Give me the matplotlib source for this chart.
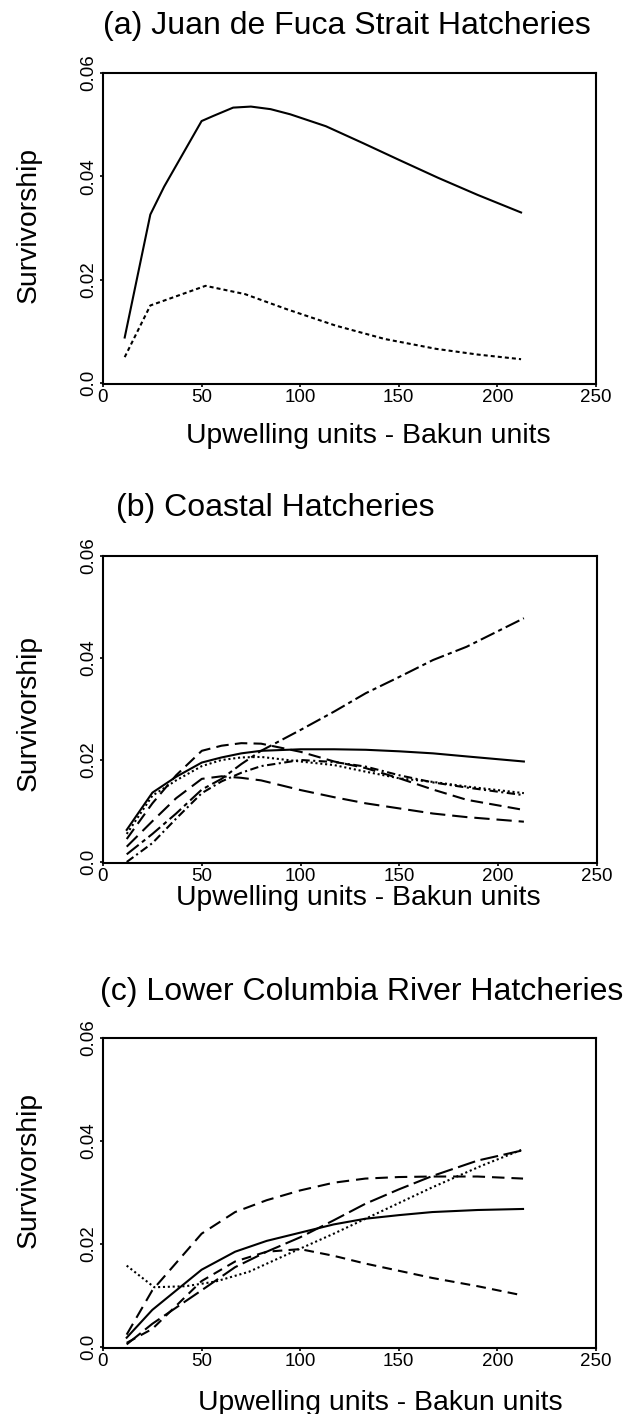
import matplotlib
matplotlib.use("Agg")
import matplotlib.pyplot as plt

plt.rcParams['font.family'] = ['Liberation Sans', 'DejaVu Sans']
plt.rcParams['lines.scale_dashes'] = False

# ---------------- data ----------------
# (a) Juan de Fuca Strait Hatcheries
a_solid_x = [11, 24, 31, 50, 56, 66, 75, 85, 95, 113, 132, 150, 170, 190, 212]
a_solid_y = [0.0088, 0.0326, 0.0380, 0.0507, 0.0517, 0.0533, 0.0535, 0.0530, 0.0520,
             0.0497, 0.0464, 0.0432, 0.0397, 0.0364, 0.0330]
a_dot_x = [11, 24, 52, 72, 93, 118, 143, 169, 190, 212]
a_dot_y = [0.0050, 0.0150, 0.0188, 0.0172, 0.0143, 0.0111, 0.0085, 0.0066, 0.0055, 0.0046]

# (b) Coastal Hatcheries
b_x = [12, 25, 37, 50, 60, 70, 80, 100, 117, 133, 150, 167, 184, 213]
b_solid = [0.0063, 0.0136, 0.0167, 0.0195, 0.0205, 0.0213, 0.0218, 0.0221, 0.0221,
           0.0220, 0.0217, 0.0213, 0.0207, 0.0197]
b_dotted = [0.0055, 0.0130, 0.0160, 0.0188, 0.0200, 0.0205, 0.0206, 0.0197, 0.0190,
            0.0177, 0.0164, 0.0157, 0.0148, 0.0135]
b_dashdot = [0.0000, 0.0037, 0.0085, 0.0135, 0.0158, 0.0175, 0.0188, 0.0200, 0.0196,
             0.0187, 0.0170, 0.0156, 0.0146, 0.0131]
b_longdash = [0.0045, 0.0115, 0.0170, 0.0218, 0.0228, 0.0233, 0.0232, 0.0216, 0.0197,
              0.0184, 0.0164, 0.0142, 0.0122, 0.0102]
b_longdash2 = [0.0030, 0.0080, 0.0125, 0.0163, 0.0168, 0.0165, 0.0160, 0.0141, 0.0127,
               0.0115, 0.0105, 0.0095, 0.0088, 0.0079]
b_rising = [0.0015, 0.0055, 0.0095, 0.0142, 0.0163, 0.0192, 0.0218, 0.0259, 0.0295,
            0.0331, 0.0363, 0.0396, 0.0422, 0.0478]

# (c) Lower Columbia River Hatcheries
c_x = [12, 25, 50, 67, 83, 100, 117, 133, 150, 167, 190, 213]
c_solid = [0.0018, 0.0072, 0.0150, 0.0185, 0.0206, 0.0222, 0.0238, 0.0249, 0.0256,
           0.0262, 0.0266, 0.0268]
c_plateau = [0.0024, 0.0110, 0.0220, 0.0262, 0.0285, 0.0304, 0.0319, 0.0327, 0.0330,
             0.0331, 0.0331, 0.0327]
c_rising = [0.0005, 0.0045, 0.0110, 0.0155, 0.0185, 0.0213, 0.0246, 0.0278, 0.0306,
            0.0332, 0.0362, 0.0382]
c_medium = [0.0008, 0.0035, 0.0128, 0.0166, 0.0185, 0.0190, 0.0177, 0.0162, 0.0148,
            0.0134, 0.0118, 0.0100]
c_dot_x = [12, 26, 42, 57, 74, 93, 117, 142, 167, 192, 213]
c_dot_y = [0.0158, 0.0116, 0.0118, 0.0127, 0.0146, 0.0179, 0.0220, 0.0265, 0.0310,
           0.0352, 0.0384]

titles = ["(a) Juan de Fuca Strait Hatcheries", "(b) Coastal Hatcheries",
          "(c) Lower Columbia River Hatcheries"]
xlabel = "Upwelling units - Bakun units"
ylabel = "Survivorship"
xticks = [0, 50, 100, 150, 200, 250]
yticks = [0.0, 0.02, 0.04, 0.06]
yticklabels = ["0.0", "0.02", "0.04", "0.06"]

# ---------------- figure ----------------
W, H = 625, 1414
fig = plt.figure(figsize=(W / 100, H / 100), dpi=100)


def T(x, y, s, **kw):
    fig.text(x / W, 1 - y / H, s, **kw)


def make_ax(top, bottom, left=103, right=596):
    ax = fig.add_axes([left / W, 1 - bottom / H, (right - left) / W, (bottom - top) / H])
    ax.set_xlim(0, 250)
    ax.set_ylim(-0.0002, 0.06)
    ax.set_xticks(xticks)
    ax.set_yticks(yticks)
    ax.set_yticklabels(yticklabels)
    ax.set_xticklabels([str(v) for v in xticks])
    for sp in ax.spines.values():
        sp.set_linewidth(1.5)
    ax.tick_params(direction='out', length=2.5, width=1.2, labelsize=13.5)
    ax.tick_params(axis='x', pad=1.0)
    ax.tick_params(axis='y', pad=1.5)
    plt.setp(ax.get_yticklabels(), rotation=90, va='center')
    return ax


LW = 1.5
K = 'black'

# panel a
ax = make_ax(73, 384)
ax.plot(a_solid_x, a_solid_y, color=K, lw=LW)
ax.plot(a_dot_x, a_dot_y, color=K, lw=LW, dashes=(2.9, 2.2))

# panel b
ax = make_ax(556, 863, right=597)
ax.plot(b_x, b_solid, color=K, lw=LW)
ax.plot(b_x, b_dotted, color=K, lw=LW, dashes=(1.5, 2.0))
ax.plot(b_x, b_dashdot, color=K, lw=LW, dashes=(6, 2.5, 1.5, 2.5))
ax.plot(b_x, b_longdash, color=K, lw=LW, dashes=(9, 4.5))
ax.plot(b_x, b_longdash2, color=K, lw=LW, dashes=(11, 5))
ax.plot(b_x, b_rising, color=K, lw=LW, dashes=(11, 3, 3, 3))

# panel c
ax = make_ax(1038, 1348)
ax.plot(c_x, c_solid, color=K, lw=LW)
ax.plot(c_x, c_plateau, color=K, lw=LW, dashes=(9, 5))
ax.plot(c_x, c_rising, color=K, lw=LW, dashes=(13, 4))
ax.plot(c_dot_x, c_dot_y, color=K, lw=LW, dashes=(1.5, 2.0))
ax.plot(c_x, c_medium, color=K, lw=LW, dashes=(7, 4.5))

# text
T(103, 34, titles[0], fontsize=23, ha='left', va='baseline')
T(116, 516, titles[1], fontsize=23, ha='left', va='baseline')
T(100, 1000, titles[2], fontsize=23, ha='left', va='baseline')

for yc in (225, 713, 1170):
    T(29, yc, ylabel, fontsize=20.4, rotation=90, ha='center', va='center')

T(186, 443, xlabel, fontsize=20.4, ha='left', va='baseline')
T(176, 905, xlabel, fontsize=20.4, ha='left', va='baseline')
T(198, 1410, xlabel, fontsize=20.4, ha='left', va='baseline')

fig.savefig('out.png', dpi=100)
